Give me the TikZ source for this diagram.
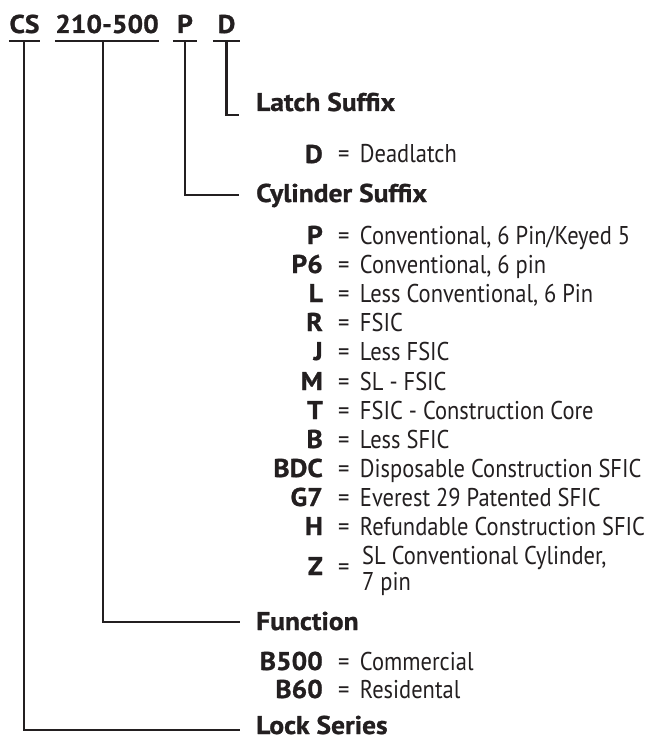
\documentclass[tikz,border=0pt]{standalone}
\usepackage{fontspec}
\setmainfont{PT Sans}[FakeStretch=0.875]
\newfontfamily\keyfont{PT Sans}[FakeStretch=1.07, BoldFeatures={FakeBold=1}]
\usepackage{xcolor}
\usetikzlibrary{positioning}

\definecolor{ink}{HTML}{231F20}

\begin{document}
\begin{tikzpicture}[x=1pt, y=-1pt, ink, text=ink,
    rule/.style={line width=2.6pt, draw=ink},
    part/.style={anchor=base, inner sep=0pt, font=\keyfont\bfseries\fontsize{25.7}{21}\selectfont},
    head/.style={anchor=base west, inner sep=0pt, font=\keyfont\bfseries\fontsize{25.7}{21}\selectfont},
    code/.style={anchor=base east, inner sep=0pt, font=\keyfont\bfseries\fontsize{25.7}{21}\selectfont},
    eqsign/.style={inner sep=0pt, font=\fontsize{25.7}{21}\selectfont},
    desc/.style={inner sep=0pt, font=\fontsize{25.7}{26}\selectfont}]

    \useasboundingbox (0,0) rectangle (665,738);

    % ================= Part number =================
    \node[part, minimum width=31pt]  (cs)    at (24.5,33) {CS};
    \node[part, minimum width=104pt] (model) at (107,33)  {210-500};
    \node[part, minimum width=24pt]  (cyl)   at (185,33)  {P};
    \node[part, minimum width=27pt]  (latch) at (226.5,33) {D};

    \draw[rule] ([yshift=-8pt]cs.base west) -- ([yshift=-8pt]cs.base east);
    \draw[rule] ([yshift=-8pt]model.base west) -- ([yshift=-8pt]model.base east);
    \draw[rule] ([yshift=-8pt]cyl.base west) -- ([yshift=-8pt]cyl.base east);
    \draw[rule] ([yshift=-8pt]latch.base west) -- ([yshift=-8pt]latch.base east);

    % ================= Headings =================
    \node[head] (hlatch)  at (256,111) {Latch Suffix};
    \node[head] (hcyl)    at (256,202) {Cylinder Suffix};
    \node[head] (hfunc)   at (256,630) {Function};
    \node[head] (hseries) at (256,734) {Lock Series};

    % ================= Connectors =================
    \draw[rule] ([yshift=-8pt]latch.base) |- ([shift={(-17pt,-4pt)}]hlatch.base west);
    \draw[rule] ([yshift=-8pt]cyl.base) |- ([shift={(-17pt,7pt)}]hcyl.base west);
    \draw[rule] ([shift={(-4pt,-8pt)}]model.base) |- ([shift={(-16pt,8pt)}]hfunc.base west);
    \draw[rule] ([shift={(-0.5pt,-8pt)}]cs.base) |- ([shift={(-16pt,4pt)}]hseries.base west);

    % ================= Latch suffix =================
    \node[code] (cD) at (323,163) {D};
    \node[eqsign, base right=15pt of cD] (eD) {=};
    \node[desc, base right=10pt of eD] (dD) {Deadlatch};

    % ================= Cylinder suffix =================
    \node[code] (cP) at (323,244) {P};
    \node[eqsign, base right=15pt of cP] (eP) {=};
    \node[desc, base right=10pt of eP] (dP) {Conventional, 6 Pin/Keyed 5};

    \node[code] (cPsix) at (323,273) {P6};
    \node[eqsign, base right=15pt of cPsix] (ePsix) {=};
    \node[desc, base right=10pt of ePsix] (dPsix) {Conventional, 6 pin};

    \node[code] (cL) at (323,302) {L};
    \node[eqsign, base right=15pt of cL] (eL) {=};
    \node[desc, base right=10pt of eL] (dL) {Less Conventional, 6 Pin};

    \node[code] (cR) at (323,331) {R};
    \node[eqsign, base right=15pt of cR] (eR) {=};
    \node[desc, base right=10pt of eR] (dR) {FSIC};

    \node[code] (cJ) at (323,360) {J};
    \node[eqsign, base right=15pt of cJ] (eJ) {=};
    \node[desc, base right=10pt of eJ] (dJ) {Less FSIC};

    \node[code] (cM) at (323,390) {M};
    \node[eqsign, base right=15pt of cM] (eM) {=};
    \node[desc, base right=10pt of eM] (dM) {SL - FSIC};

    \node[code] (cT) at (323,419) {T};
    \node[eqsign, base right=15pt of cT] (eT) {=};
    \node[desc, base right=10pt of eT] (dT) {FSIC - Construction Core};

    \node[code] (cB) at (323,448) {B};
    \node[eqsign, base right=15pt of cB] (eB) {=};
    \node[desc, base right=10pt of eB] (dB) {Less SFIC};

    \node[code] (cBDC) at (323,477) {BDC};
    \node[eqsign, base right=15pt of cBDC] (eBDC) {=};
    \node[desc, base right=10pt of eBDC] (dBDC) {Disposable Construction SFIC};

    \node[code] (cGseven) at (323,506) {G7};
    \node[eqsign, base right=15pt of cGseven] (eGseven) {=};
    \node[desc, base right=10pt of eGseven] (dGseven) {Everest 29 Patented SFIC};

    \node[code] (cH) at (323,535) {H};
    \node[eqsign, base right=15pt of cH] (eH) {=};
    \node[desc, base right=10pt of eH] (dH) {Refundable Construction SFIC};

    \node[code] (cZ) at (323,575) {Z};
    \node[eqsign, base right=15pt of cZ] (eZ) {=};
    \node[desc, anchor=west, align=left] (dZ) at (362,571) {SL Conventional Cylinder,\\7 pin};

    % ================= Function =================
    \node[code] (cBfive) at (323,670) {B500};
    \node[eqsign, base right=15pt of cBfive] (eBfive) {=};
    \node[desc, base right=10pt of eBfive] (dBfive) {Commercial};

    \node[code] (cBsix) at (323,698) {B60};
    \node[eqsign, base right=15pt of cBsix] (eBsix) {=};
    \node[desc, base right=10pt of eBsix] (dBsix) {Residental};

\end{tikzpicture}
\end{document}
